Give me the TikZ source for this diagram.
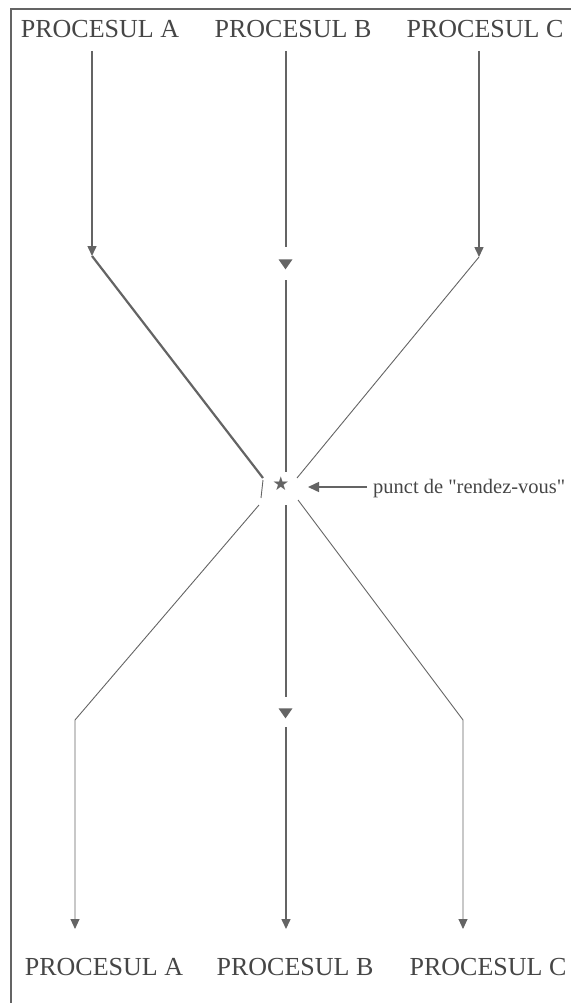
\documentclass[tikz,border=0pt]{standalone}
\usepackage{fontspec}
\setmainfont{Liberation Serif}
\newfontfamily\notefont{Liberation Serif}
\newfontfamily\symfont{DejaVu Sans}
\usetikzlibrary{arrows.meta,shapes.geometric}
\definecolor{ink}{RGB}{100,100,100}
\definecolor{txt}{RGB}{70,70,70}
\begin{document}
\begin{tikzpicture}[x=1pt,y=-1pt,
  proc/.style={anchor=base,inner sep=0pt,text=txt,font=\fontsize{26}{26}\selectfont},
  note/.style={anchor=base west,inner sep=0pt,text=txt,font=\notefont\fontsize{20.5}{20.5}\selectfont},
  wire/.style={draw=ink,line width=1.5pt},
  thin/.style={draw=ink,line width=0.9pt},
  thick/.style={draw=ink,line width=2.2pt},
  arr/.style={-{Triangle[width=9pt,length=10pt]},color=ink},
  tri/.style={isosceles triangle,isosceles triangle apex angle=70,shape border rotate=-90,fill=ink,draw=none,minimum width=11pt,minimum height=10pt,inner sep=0pt},
  frame/.style={draw=ink,line width=2pt}]
\useasboundingbox (0,0) rectangle (571,1003);
% frame
\coordinate (f1) at (11,1003);
\coordinate (f2) at (11,9);
\coordinate (f3) at (571,9);
\draw[frame] (f1) -- (f2) -- (f3);
% top labels
\node[proc] (tA) at (100,38) {PROCESUL A};
\node[proc] (tB) at (293,38) {PROCESUL B};
\node[proc] (tC) at (485,38) {PROCESUL C};
% bottom labels
\node[proc] (bA) at (104,975) {PROCESUL A};
\node[proc] (bB) at (295,975) {PROCESUL B};
\node[proc] (bC) at (488,975) {PROCESUL C};
% coordinates
\coordinate (a0) at (92,51);
\coordinate (a1) at (92,256);
\coordinate (a2) at (263,478);
\coordinate (a3) at (263,480);
\coordinate (a4) at (261,498);
\coordinate (a5) at (259,505);
\coordinate (a6) at (75,720);
\coordinate (a7) at (75,929);
\coordinate (b0) at (286,51);
\coordinate (b1) at (286,247);
\coordinate (b2) at (286,280);
\coordinate (b3) at (286,472);
\coordinate (b4) at (286,505);
\coordinate (b5) at (286,697);
\coordinate (b6) at (286,727);
\coordinate (b7) at (286,929);
\coordinate (c0) at (479,51);
\coordinate (c1) at (479,257);
\coordinate (c2) at (297,478);
\coordinate (c3) at (298,500);
\coordinate (c4) at (463,720);
\coordinate (c5) at (463,929);
% process A
\draw[wire,arr] (a0) -- (a1);
\draw[thick] (a1) -- (a2);
\draw[thin] (a3) -- (a4);
\draw[thin,arr] (a5) -- (a6) -- (a7);
% process B
\draw[wire] (b0) -- (b1);
\node[tri] (bt1) at (285.5,263) {};
\draw[wire] (b2) -- (b3);
\node[font=\symfont\fontsize{19}{19}\selectfont,text=ink,inner sep=0pt] (star) at (281,484) {★};
\draw[wire] (b4) -- (b5);
\node[tri] (bt2) at (285.5,712) {};
\draw[wire,arr] (b6) -- (b7);
% process C
\draw[wire,arr] (c0) -- (c1);
\draw[thin] (c1) -- (c2);
\draw[thin,arr] (c3) -- (c4) -- (c5);
% rendez-vous label
\node[note] (rv) at (373,493) {punct de "rendez-vous"};
\coordinate (rvt) at (308,487);
\draw[wire,-{Triangle[width=10pt,length=11pt]},color=ink] (rv.west |- rvt) ++(-6,0) -- (rvt);
\end{tikzpicture}
\end{document}
